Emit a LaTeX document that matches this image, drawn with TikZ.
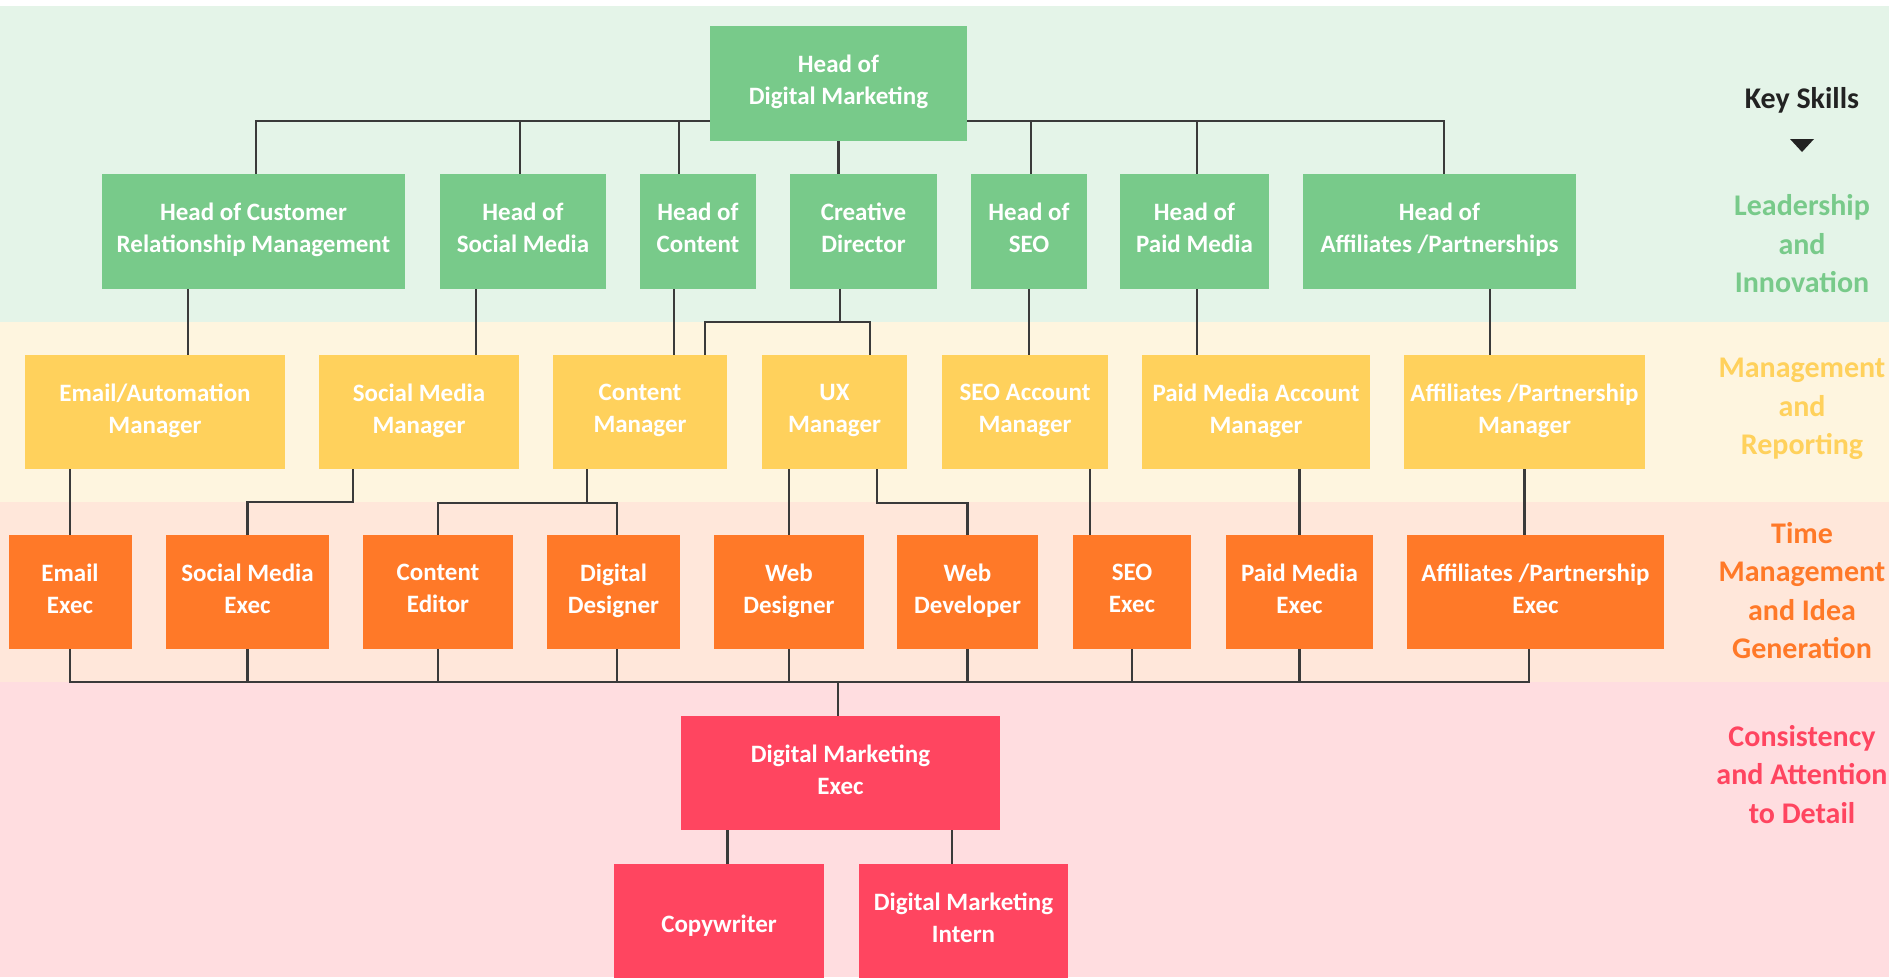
\documentclass[tikz,border=0pt]{standalone}
\usepackage{fontspec}
\setmainfont{Carlito}
\usetikzlibrary{calc}
\definecolor{headgreen}{RGB}{120,202,138}
\definecolor{bandgreen}{RGB}{228,244,232}
\definecolor{mgryellow}{RGB}{255,209,92}
\definecolor{bandyellow}{RGB}{254,245,223}
\definecolor{execorange}{RGB}{255,121,40}
\definecolor{bandorange}{RGB}{255,231,218}
\definecolor{juniorred}{RGB}{255,69,96}
\definecolor{bandred}{RGB}{255,221,224}
\definecolor{wiregray}{RGB}{58,58,58}
\definecolor{keydark}{RGB}{34,34,34}
\begin{document}
\begin{tikzpicture}[x=1pt, y=-1pt,
    card/.style={inner sep=0pt, minimum height=114pt, align=center, text=white,
      font=\fontsize{25}{32}\selectfont\bfseries,
      execute at begin node={\rule{0pt}{29pt}},
      execute at end node={\rule[-7pt]{0pt}{7pt}}},
    headbox/.style={card, fill=headgreen, minimum height=115pt},
    mgrbox/.style={card, fill=mgryellow},
    execbox/.style={card, fill=execorange},
    juniorbox/.style={card, fill=juniorred},
    skilltext/.style={align=center, font=\fontsize{30}{38.5}\selectfont\bfseries},
    wire/.style={draw=wiregray, line width=2.2pt}]
    \useasboundingbox (0, 0) rectangle (1889, 977);
    \fill [white] (0, 0) rectangle (1889, 977);
    \fill [bandgreen] (0, 6) rectangle (1889, 322);
    \fill [bandyellow] (0, 322) rectangle (1889, 502);
    \fill [bandorange] (0, 502) rectangle (1889, 682);
    \fill [bandred] (0, 682) rectangle (1889, 977);

    \node[headbox, minimum width=257] (hdm) at (838.5, 83.5) {Head of\\Digital Marketing};
    \node[headbox, minimum width=303] (crm) at (253.5, 231.5) {Head of Customer\\Relationship Management};
    \node[headbox, minimum width=166] (hsm) at (523, 231.5) {Head of\\Social Media};
    \node[headbox, minimum width=116] (hcon) at (698, 231.5) {Head of\\Content};
    \node[headbox, minimum width=147] (cdir) at (863.5, 231.5) {Creative\\Director};
    \node[headbox, minimum width=116] (hseo) at (1029, 231.5) {Head of\\SEO};
    \node[headbox, minimum width=149] (hpaid) at (1194.5, 231.5) {Head of\\Paid Media};
    \node[headbox, minimum width=273] (haff) at (1439.5, 231.5) {Head of\\Affiliates /Partnerships};

    \node[mgrbox, minimum width=260] (emm) at (155, 412) {Email/Automation\\Manager};
    \node[mgrbox, minimum width=200] (smm) at (419, 412) {Social Media\\Manager};
    \node[mgrbox, minimum width=174] (conm) at (640, 412) {Content\\Manager};
    \node[mgrbox, minimum width=145] (uxm) at (834.5, 412) {UX\\Manager};
    \node[mgrbox, minimum width=166] (seom) at (1025, 412) {SEO Account\\Manager};
    \node[mgrbox, minimum width=228] (paidm) at (1256, 412) {Paid Media Account\\Manager};
    \node[mgrbox, minimum width=241] (affm) at (1524.5, 412) {Affiliates /Partnership\\Manager};

    \node[execbox, minimum width=123] (emx) at (70, 592) {Email\\Exec};
    \node[execbox, minimum width=163] (smx) at (247.5, 592) {Social Media\\Exec};
    \node[execbox, minimum width=150] (cedit) at (438, 592) {Content\\Editor};
    \node[execbox, minimum width=133] (ddes) at (613.5, 592) {Digital\\Designer};
    \node[execbox, minimum width=150] (wdes) at (789, 592) {Web\\Designer};
    \node[execbox, minimum width=141] (wdev) at (967.5, 592) {Web\\Developer};
    \node[execbox, minimum width=118] (seox) at (1132, 592) {SEO\\Exec};
    \node[execbox, minimum width=147] (paidx) at (1299.5, 592) {Paid Media\\Exec};
    \node[execbox, minimum width=257] (affx) at (1535.5, 592) {Affiliates /Partnership\\Exec};

    \node[juniorbox, minimum width=319] (dmx) at (840.5, 773) {Digital Marketing\\Exec};
    \node[juniorbox, minimum width=210] (copy) at (719, 921) {Copywriter};
    \node[juniorbox, minimum width=209] (intern) at (963.5, 921) {Digital Marketing\\Intern};

    \node[skilltext, text=keydark] (keys) at (1802, 100) {Key Skills};
    \fill [keydark] (1790, 139) -- (1814, 139) -- (1802, 152) -- cycle;
    \node[skilltext, text=headgreen] (leadskill) at (1802, 244) {Leadership\\and\\Innovation};
    \node[skilltext, text=mgryellow] (mgrskill) at (1802, 409) {Management\\and\\Reporting};
    \node[skilltext, text=execorange] (execskill) at (1802, 590.5) {Time\\Management\\and Idea\\Generation};
    \node[skilltext, text=juniorred] (juniorskill) at (1802, 774.5) {Consistency\\and Attention\\to Detail};

    % heads
    \coordinate (topbusl) at ([yshift=20]hdm.south west);
    \coordinate (topbusr) at ([yshift=20]hdm.south east);
    \draw[wire] ([xshift=2.5]crm.north) |- (topbusl);
    \draw[wire] ([xshift=-3]hsm.north) |- (topbusl);
    \draw[wire] ([xshift=-19]hcon.north) |- (topbusl);
    \draw[wire] (hdm.south) -- (hdm.south |- cdir.north);
    \draw[wire] ([xshift=2]hseo.north) |- (topbusr);
    \draw[wire] ([xshift=2.5]hpaid.north) |- (topbusr);
    \draw[wire] ([xshift=4.5]haff.north) |- (topbusr);

    % managers
    \draw[wire] ([xshift=33]emm.north) -- ($(emm.north |- crm.south)+(33,0)$);
    \draw[wire] ([xshift=57]smm.north) -- ($(smm.north |- hsm.south)+(57,0)$);
    \draw[wire] ([xshift=-24]hcon.south) -- ($(hcon.south |- conm.north)+(-24,0)$);
    \coordinate (cdirbus) at ($(cdir.south)+(-23.5,33)$);
    \draw[wire] ([xshift=-23.5]cdir.south) -- (cdirbus);
    \draw[wire] ([xshift=65]conm.north) |- (cdirbus);
    \draw[wire] ([xshift=35.5]uxm.north) |- (cdirbus);
    \draw[wire] (hseo.south) -- (hseo.south |- seom.north);
    \draw[wire] ([xshift=2.5]hpaid.south) -- ($(hpaid.south |- paidm.north)+(2.5,0)$);
    \draw[wire] ([xshift=50.5]haff.south) -- ($(haff.south |- affm.north)+(50.5,0)$);

    % execs
    \draw[wire] (emx.north) -- (emx.north |- emm.south);
    \draw[wire] ([xshift=-66]smm.south) -- ++(0,33) -| (smx.north);
    \coordinate (conmbus) at ($(conm.south)+(-53,34)$);
    \draw[wire] ([xshift=-53]conm.south) -- (conmbus);
    \draw[wire] (cedit.north) |- (conmbus);
    \draw[wire] ([xshift=3.5]ddes.north) |- (conmbus);
    \draw[wire] (wdes.north) -- (wdes.north |- uxm.south);
    \draw[wire] ([xshift=42.5]uxm.south) -- ++(0,34) -| (wdev.north);
    \draw[wire] ([xshift=65]seom.south) -- ($(seom.south |- seox.north)+(65,0)$);
    \draw[wire] (paidx.north) -- (paidx.north |- paidm.south);
    \draw[wire] (affm.south) -- (affm.south |- affx.north);

    % juniors
    \coordinate (execbus) at ($(dmx.north)+(-2.5,-34)$);
    \draw[wire] ([xshift=-2.5]dmx.north) -- (execbus);
    \draw[wire] (emx.south) |- (execbus);
    \draw[wire] (smx.south) |- (execbus);
    \draw[wire] (cedit.south) |- (execbus);
    \draw[wire] ([xshift=3.5]ddes.south) |- (execbus);
    \draw[wire] (wdes.south) |- (execbus);
    \draw[wire] (wdev.south) |- (execbus);
    \draw[wire] (seox.south) |- (execbus);
    \draw[wire] (paidx.south) |- (execbus);
    \draw[wire] ([xshift=-6.5]affx.south) |- (execbus);
    \draw[wire] ([xshift=8.5]copy.north) -- ($(copy.north |- dmx.south)+(8.5,0)$);
    \draw[wire] ([xshift=-11.5]intern.north) -- ($(intern.north |- dmx.south)+(-11.5,0)$);
\end{tikzpicture}
\end{document}
